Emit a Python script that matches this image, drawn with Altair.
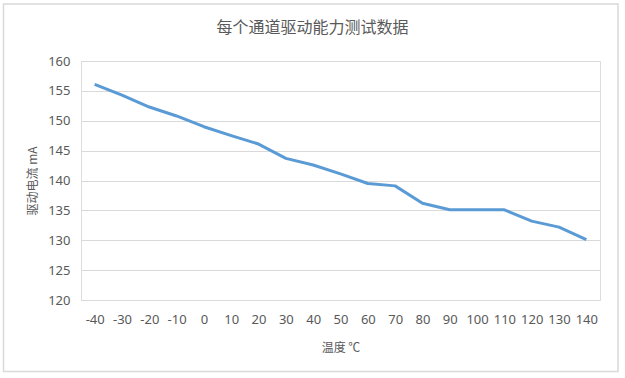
import altair as alt
import pandas as pd

temps = [-40, -30, -20, -10, 0, 10, 20, 30, 40, 50, 60, 70, 80, 90, 100, 110, 120, 130, 140]
currents = [156.1, 154.3, 152.3, 150.8, 149.0, 147.5, 146.1, 143.7, 142.6, 141.1, 139.5,
            139.1, 136.2, 135.1, 135.1, 135.1, 133.2, 132.2, 130.1]
y_ticks = [120, 125, 130, 135, 140, 145, 150, 155, 160]

title_text = "每个通道驱动能力测试数据"
x_title = "温度 ℃"
y_title = "驱动电流 mA"

df = pd.DataFrame({"t": [str(t) for t in temps], "i": currents})
order = [str(t) for t in temps]

GRAY = "#595959"
FONT = "Noto Sans"
CJK = "Noto Sans CJK SC"

line = alt.Chart(df).mark_line(color="#5B9BD5", strokeWidth=3, strokeJoin="round").encode(
    x=alt.X("t:O", sort=order, title=x_title,
            scale=alt.Scale(paddingInner=0, paddingOuter=0),
            axis=alt.Axis(labelAngle=0, ticks=False, domain=False, grid=False,
                          labelPadding=13, labelFont=FONT, labelFontSize=13,
                          labelColor=GRAY, labelOverlap=False,
                          titleFont=CJK, titleFontSize=12, titleColor=GRAY,
                          titleFontWeight="normal", titlePadding=16)),
    y=alt.Y("i:Q", title=y_title,
            scale=alt.Scale(domain=[120, 160], nice=False, zero=False),
            axis=alt.Axis(values=y_ticks, ticks=False, domain=False, grid=True,
                          gridColor="#d9d9d9", gridWidth=1,
                          labelPadding=11, labelFont=FONT, labelFontSize=13,
                          labelColor=GRAY,
                          titleFont=CJK, titleFontSize=12, titleColor=GRAY,
                          titleFontWeight="normal", titleX=-49, titleY=119.5,
                          titleAlign="center", titleBaseline="middle")),
)

deco = pd.DataFrame({"a": [0]})

border = alt.Chart(deco).mark_rect(
    fill=None, stroke="#d9d9d9", strokeWidth=1.5, clip=False
).encode(
    x=alt.value(-77.5), x2=alt.value(537), y=alt.value(-57), y2=alt.value(310.5)
)

title = alt.Chart(deco).mark_text(
    font=CJK, fontSize=16, color=GRAY, align="center", baseline="middle", clip=False
).encode(
    x=alt.value(231.5), y=alt.value(-33.5), text=alt.value(title_text)
)

chart = alt.layer(border, title, line).properties(
    width=519, height=239,
    padding={"left": 81, "top": 61, "right": 25, "bottom": 78},
    autosize=alt.AutoSizeParams(type="none"),
).configure_view(stroke=None).configure(background="white")

chart.save("out.html", embed_options={"renderer": "svg", "actions": False})
